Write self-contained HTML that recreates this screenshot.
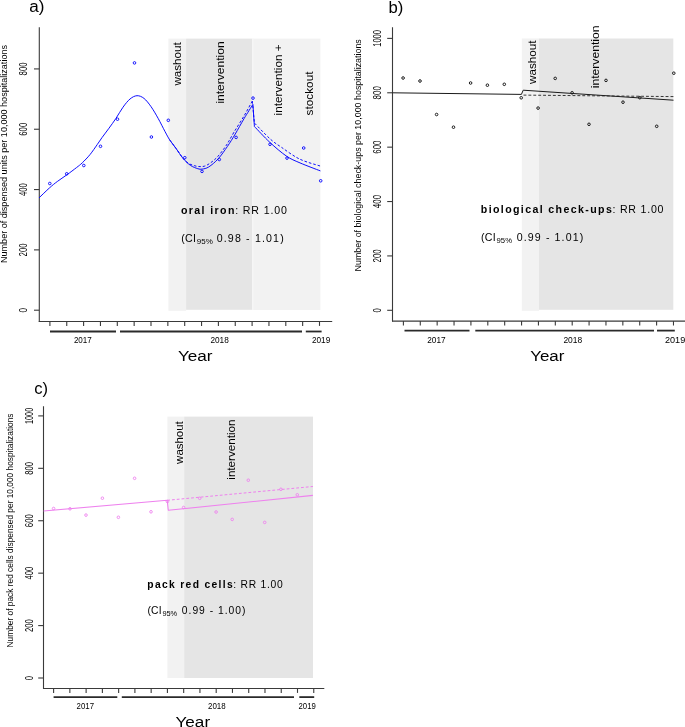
<!DOCTYPE html>
<html><head><meta charset="utf-8"><style>
html,body{margin:0;padding:0;background:#fff;width:685px;height:727px;overflow:hidden;position:relative;font-family:"Liberation Sans", sans-serif;}
</style></head><body>
<svg width="685" height="727" viewBox="0 0 685 727" style="position:absolute;left:0;top:0;will-change:transform">
<g font-family='"Liberation Sans", sans-serif'>
<rect x="168.4" y="38.6" width="17.7" height="272.2" fill="#f2f2f2"/>
<rect x="186.1" y="38.6" width="66.3" height="271.2" fill="#e5e5e5"/>
<rect x="252.4" y="38.6" width="68" height="271.4" fill="#f2f2f2"/>
<rect x="252.4" y="38.6" width="1" height="271.4" fill="#f8f8f8"/>
<line x1="39.3" y1="27.2" x2="39.3" y2="322" stroke="#3a3a3a" stroke-width="1.1" />
<line x1="38.8" y1="321.5" x2="332.2" y2="321.5" stroke="#3a3a3a" stroke-width="1.1" />
<line x1="34" y1="310.2" x2="39.3" y2="310.2" stroke="#3a3a3a" stroke-width="1.1" />
<text transform="translate(27.4,312.45) rotate(-90)" font-size="10.2" fill="#000" textLength="4.5" lengthAdjust="spacingAndGlyphs">0</text>
<line x1="34" y1="249.88" x2="39.3" y2="249.88" stroke="#3a3a3a" stroke-width="1.1" />
<text transform="translate(27.4,256.38) rotate(-90)" font-size="10.2" fill="#000" textLength="13" lengthAdjust="spacingAndGlyphs">200</text>
<line x1="34" y1="189.56" x2="39.3" y2="189.56" stroke="#3a3a3a" stroke-width="1.1" />
<text transform="translate(27.4,196.06) rotate(-90)" font-size="10.2" fill="#000" textLength="13" lengthAdjust="spacingAndGlyphs">400</text>
<line x1="34" y1="129.24" x2="39.3" y2="129.24" stroke="#3a3a3a" stroke-width="1.1" />
<text transform="translate(27.4,135.74) rotate(-90)" font-size="10.2" fill="#000" textLength="13" lengthAdjust="spacingAndGlyphs">600</text>
<line x1="34" y1="68.92" x2="39.3" y2="68.92" stroke="#3a3a3a" stroke-width="1.1" />
<text transform="translate(27.4,75.42) rotate(-90)" font-size="10.2" fill="#000" textLength="13" lengthAdjust="spacingAndGlyphs">800</text>
<line x1="49.9" y1="321.5" x2="49.9" y2="325.9" stroke="#3a3a3a" stroke-width="1.1" />
<line x1="66.75" y1="321.5" x2="66.75" y2="325.9" stroke="#3a3a3a" stroke-width="1.1" />
<line x1="83.6" y1="321.5" x2="83.6" y2="325.9" stroke="#3a3a3a" stroke-width="1.1" />
<line x1="100.45" y1="321.5" x2="100.45" y2="325.9" stroke="#3a3a3a" stroke-width="1.1" />
<line x1="117.3" y1="321.5" x2="117.3" y2="325.9" stroke="#3a3a3a" stroke-width="1.1" />
<line x1="134.15" y1="321.5" x2="134.15" y2="325.9" stroke="#3a3a3a" stroke-width="1.1" />
<line x1="151" y1="321.5" x2="151" y2="325.9" stroke="#3a3a3a" stroke-width="1.1" />
<line x1="167.85" y1="321.5" x2="167.85" y2="325.9" stroke="#3a3a3a" stroke-width="1.1" />
<line x1="184.7" y1="321.5" x2="184.7" y2="325.9" stroke="#3a3a3a" stroke-width="1.1" />
<line x1="201.55" y1="321.5" x2="201.55" y2="325.9" stroke="#3a3a3a" stroke-width="1.1" />
<line x1="218.4" y1="321.5" x2="218.4" y2="325.9" stroke="#3a3a3a" stroke-width="1.1" />
<line x1="235.25" y1="321.5" x2="235.25" y2="325.9" stroke="#3a3a3a" stroke-width="1.1" />
<line x1="252.1" y1="321.5" x2="252.1" y2="325.9" stroke="#3a3a3a" stroke-width="1.1" />
<line x1="268.95" y1="321.5" x2="268.95" y2="325.9" stroke="#3a3a3a" stroke-width="1.1" />
<line x1="285.8" y1="321.5" x2="285.8" y2="325.9" stroke="#3a3a3a" stroke-width="1.1" />
<line x1="302.65" y1="321.5" x2="302.65" y2="325.9" stroke="#3a3a3a" stroke-width="1.1" />
<line x1="319.5" y1="321.5" x2="319.5" y2="325.9" stroke="#3a3a3a" stroke-width="1.1" />
<line x1="50" y1="331.5" x2="116" y2="331.5" stroke="#2a2a2a" stroke-width="1.8" />
<line x1="120" y1="331.5" x2="302" y2="331.5" stroke="#2a2a2a" stroke-width="1.8" />
<line x1="305.8" y1="331.5" x2="321.6" y2="331.5" stroke="#2a2a2a" stroke-width="1.8" />
<text x="73.9" y="343.4" font-size="9" fill="#000" textLength="17.9" lengthAdjust="spacingAndGlyphs">2017</text>
<text x="210.4" y="343.4" font-size="9" fill="#000" textLength="18.4" lengthAdjust="spacingAndGlyphs">2018</text>
<text x="311.9" y="343.4" font-size="9" fill="#000" textLength="18.4" lengthAdjust="spacingAndGlyphs">2019</text>
<text transform="translate(7.4,263) rotate(-90)" font-size="9.0" fill="#000" textLength="218" lengthAdjust="spacingAndGlyphs">Number of dispensed units per 10,000 hospitalizations</text>
<text x="29.3" y="12" font-size="16" fill="#000" textLength="15.2" lengthAdjust="spacingAndGlyphs">a)</text>
<text x="177.9" y="361.3" font-size="15.2" fill="#000" textLength="34.6" lengthAdjust="spacingAndGlyphs">Year</text>
<text transform="translate(181.1,85.6) rotate(-90)" font-size="11.6" fill="#000" textLength="43.3" lengthAdjust="spacingAndGlyphs">washout</text>
<text transform="translate(223.8,103.6) rotate(-90)" font-size="11.6" fill="#000" textLength="62.2" lengthAdjust="spacingAndGlyphs">intervention</text>
<text transform="translate(281.9,115.4) rotate(-90)" font-size="11.6" fill="#000" textLength="71.1" lengthAdjust="spacingAndGlyphs">intervention +</text>
<text transform="translate(312.8,115.4) rotate(-90)" font-size="11.6" fill="#000" textLength="43.9" lengthAdjust="spacingAndGlyphs">stockout</text>
<text x="181" y="213.8" font-size="10.6" fill="#000" font-weight="bold" textLength="53.4" lengthAdjust="spacing">oral iron</text>
<text x="235.2" y="213.8" font-size="10.6" fill="#000" textLength="51.8" lengthAdjust="spacing">: RR 1.00</text>
<text x="181.2" y="241.6" font-size="10.6" fill="#000" textLength="14.8" lengthAdjust="spacing">(CI</text>
<text x="196.8" y="243.8" font-size="7.4" fill="#000" textLength="16" lengthAdjust="spacingAndGlyphs">95%</text>
<text x="216.7" y="241.6" font-size="10.6" fill="#000" textLength="67" lengthAdjust="spacing">0.98 - 1.01)</text>
<circle cx="49.8" cy="183.5" r="1.3" fill="none" stroke="#0000ff" stroke-width="0.9"/>
<circle cx="66.7" cy="173.8" r="1.3" fill="none" stroke="#0000ff" stroke-width="0.9"/>
<circle cx="83.8" cy="165.5" r="1.3" fill="none" stroke="#0000ff" stroke-width="0.9"/>
<circle cx="100.5" cy="146.3" r="1.3" fill="none" stroke="#0000ff" stroke-width="0.9"/>
<circle cx="117.5" cy="119.2" r="1.3" fill="none" stroke="#0000ff" stroke-width="0.9"/>
<circle cx="134.5" cy="62.9" r="1.3" fill="none" stroke="#0000ff" stroke-width="0.9"/>
<circle cx="151.4" cy="137" r="1.3" fill="none" stroke="#0000ff" stroke-width="0.9"/>
<circle cx="168.3" cy="120.3" r="1.3" fill="none" stroke="#0000ff" stroke-width="0.9"/>
<circle cx="184.8" cy="157.7" r="1.3" fill="none" stroke="#0000ff" stroke-width="0.9"/>
<circle cx="202" cy="171.4" r="1.3" fill="none" stroke="#0000ff" stroke-width="0.9"/>
<circle cx="219.3" cy="159.5" r="1.3" fill="none" stroke="#0000ff" stroke-width="0.9"/>
<circle cx="236.1" cy="137.4" r="1.3" fill="none" stroke="#0000ff" stroke-width="0.9"/>
<circle cx="253" cy="98.1" r="1.3" fill="none" stroke="#0000ff" stroke-width="0.9"/>
<circle cx="270" cy="144.3" r="1.3" fill="none" stroke="#0000ff" stroke-width="0.9"/>
<circle cx="287" cy="158.1" r="1.3" fill="none" stroke="#0000ff" stroke-width="0.9"/>
<circle cx="303.7" cy="148" r="1.3" fill="none" stroke="#0000ff" stroke-width="0.9"/>
<circle cx="320.7" cy="180.8" r="1.3" fill="none" stroke="#0000ff" stroke-width="0.9"/>
<path d="M39,197.9 C40.77,196.22 46.55,190.53 49.6,187.8 C52.65,185.07 54.42,183.67 57.3,181.5 C60.18,179.33 63.7,177.12 66.9,174.8 C70.1,172.48 73.93,169.6 76.5,167.6 C79.07,165.6 80.05,164.97 82.3,162.8 C84.55,160.63 87.52,157.63 90,154.6 C92.48,151.57 95.2,147.43 97.2,144.6 C99.2,141.77 100.03,140.33 102,137.6 C103.97,134.87 106.67,131.42 109,128.2 C111.33,124.98 113.67,121.8 116,118.3 C118.33,114.8 120.67,110.42 123,107.2 C125.33,103.98 127.67,100.92 130,99 C132.33,97.08 134.67,95.8 137,95.7 C139.33,95.6 141.67,96.58 144,98.4 C146.33,100.22 148.65,103.28 151,106.6 C153.35,109.92 155.75,114.12 158.1,118.3 C160.45,122.48 163.17,128.1 165.1,131.7 C167.03,135.3 167.88,137.12 169.7,139.9 C171.52,142.68 173.75,145.28 176,148.4 C178.25,151.52 180.78,155.77 183.2,158.6 C185.62,161.43 188.07,163.72 190.5,165.4 C192.93,167.08 195.85,168.08 197.8,168.7 C199.75,169.32 200.37,169.4 202.2,169.1 C204.03,168.8 206.13,168.62 208.8,166.9 C211.47,165.18 215.08,162.23 218.2,158.8 C221.32,155.37 224.67,150.42 227.5,146.3 C230.33,142.18 232.45,138.7 235.2,134.1 C237.95,129.5 241.05,123.65 244,118.7 C246.95,113.75 251.42,106.78 252.9,104.4" fill="none" stroke="#0000ff" stroke-width="0.95" stroke-linejoin="round"/>
<path d="M252.9,104.4 L254.4,126.5  C256.97,129.13 264.48,137.38 269.8,142.3 C275.12,147.22 281.27,152.57 286.3,156 C291.33,159.43 294.32,160.42 300,162.9 C305.68,165.38 317,169.57 320.4,170.9" fill="none" stroke="#0000ff" stroke-width="0.95" stroke-linejoin="round"/>
<path d="M169.7,139.9 C170.75,141.32 173.75,145.32 176,148.4 C178.25,151.48 181.13,155.92 183.2,158.4 C185.27,160.88 186.57,162.1 188.4,163.3 C190.23,164.5 192.5,165.07 194.2,165.6 C195.9,166.13 196.9,166.4 198.6,166.5 C200.3,166.6 202.45,166.78 204.4,166.2 C206.35,165.62 208.1,164.58 210.3,163 C212.5,161.42 214.92,159.67 217.6,156.7 C220.28,153.73 223.65,149.32 226.4,145.2 C229.15,141.08 231.17,136.87 234.1,132 C237.03,127.13 240.97,121.15 244,116 C247.03,110.85 250.92,103.58 252.3,101.1" fill="none" stroke="#0000ff" stroke-width="0.95" stroke-dasharray="2.6,1.9" stroke-linejoin="round"/>
<path d="M252.3,101.1 L254.4,123  C257,125.63 265.52,134.77 270,138.8 C274.48,142.83 276.35,143.82 281.3,147.2 C286.25,150.58 293.18,155.95 299.7,159.1 C306.22,162.25 316.95,164.93 320.4,166.1" fill="none" stroke="#0000ff" stroke-width="0.95" stroke-dasharray="2.6,1.9" stroke-linejoin="round"/>
<rect x="521.8" y="38.5" width="17.2" height="272.3" fill="#f2f2f2"/>
<rect x="539" y="38.5" width="134.3" height="271.3" fill="#e5e5e5"/>
<line x1="392.5" y1="27.2" x2="392.5" y2="321.6" stroke="#3a3a3a" stroke-width="1.1" />
<line x1="392" y1="321.1" x2="685.5" y2="321.1" stroke="#3a3a3a" stroke-width="1.1" />
<line x1="387.2" y1="310.3" x2="392.5" y2="310.3" stroke="#3a3a3a" stroke-width="1.1" />
<text transform="translate(380.8,312.45) rotate(-90)" font-size="10.8" fill="#000" textLength="4.3" lengthAdjust="spacingAndGlyphs">0</text>
<line x1="387.2" y1="255.92" x2="392.5" y2="255.92" stroke="#3a3a3a" stroke-width="1.1" />
<text transform="translate(380.8,262.52) rotate(-90)" font-size="10.8" fill="#000" textLength="13.2" lengthAdjust="spacingAndGlyphs">200</text>
<line x1="387.2" y1="201.54" x2="392.5" y2="201.54" stroke="#3a3a3a" stroke-width="1.1" />
<text transform="translate(380.8,208.14) rotate(-90)" font-size="10.8" fill="#000" textLength="13.2" lengthAdjust="spacingAndGlyphs">400</text>
<line x1="387.2" y1="147.16" x2="392.5" y2="147.16" stroke="#3a3a3a" stroke-width="1.1" />
<text transform="translate(380.8,153.76) rotate(-90)" font-size="10.8" fill="#000" textLength="13.2" lengthAdjust="spacingAndGlyphs">600</text>
<line x1="387.2" y1="92.78" x2="392.5" y2="92.78" stroke="#3a3a3a" stroke-width="1.1" />
<text transform="translate(380.8,99.38) rotate(-90)" font-size="10.8" fill="#000" textLength="13.2" lengthAdjust="spacingAndGlyphs">800</text>
<line x1="387.2" y1="38.4" x2="392.5" y2="38.4" stroke="#3a3a3a" stroke-width="1.1" />
<text transform="translate(380.8,46.75) rotate(-90)" font-size="10.8" fill="#000" textLength="16.7" lengthAdjust="spacingAndGlyphs">1000</text>
<line x1="403.4" y1="321.1" x2="403.4" y2="325.5" stroke="#3a3a3a" stroke-width="1.1" />
<line x1="420.28" y1="321.1" x2="420.28" y2="325.5" stroke="#3a3a3a" stroke-width="1.1" />
<line x1="437.16" y1="321.1" x2="437.16" y2="325.5" stroke="#3a3a3a" stroke-width="1.1" />
<line x1="454.04" y1="321.1" x2="454.04" y2="325.5" stroke="#3a3a3a" stroke-width="1.1" />
<line x1="470.92" y1="321.1" x2="470.92" y2="325.5" stroke="#3a3a3a" stroke-width="1.1" />
<line x1="487.8" y1="321.1" x2="487.8" y2="325.5" stroke="#3a3a3a" stroke-width="1.1" />
<line x1="504.68" y1="321.1" x2="504.68" y2="325.5" stroke="#3a3a3a" stroke-width="1.1" />
<line x1="521.56" y1="321.1" x2="521.56" y2="325.5" stroke="#3a3a3a" stroke-width="1.1" />
<line x1="538.44" y1="321.1" x2="538.44" y2="325.5" stroke="#3a3a3a" stroke-width="1.1" />
<line x1="555.32" y1="321.1" x2="555.32" y2="325.5" stroke="#3a3a3a" stroke-width="1.1" />
<line x1="572.2" y1="321.1" x2="572.2" y2="325.5" stroke="#3a3a3a" stroke-width="1.1" />
<line x1="589.08" y1="321.1" x2="589.08" y2="325.5" stroke="#3a3a3a" stroke-width="1.1" />
<line x1="605.96" y1="321.1" x2="605.96" y2="325.5" stroke="#3a3a3a" stroke-width="1.1" />
<line x1="622.84" y1="321.1" x2="622.84" y2="325.5" stroke="#3a3a3a" stroke-width="1.1" />
<line x1="639.72" y1="321.1" x2="639.72" y2="325.5" stroke="#3a3a3a" stroke-width="1.1" />
<line x1="656.6" y1="321.1" x2="656.6" y2="325.5" stroke="#3a3a3a" stroke-width="1.1" />
<line x1="673.48" y1="321.1" x2="673.48" y2="325.5" stroke="#3a3a3a" stroke-width="1.1" />
<line x1="404.5" y1="330.6" x2="469.5" y2="330.6" stroke="#2a2a2a" stroke-width="1.8" />
<line x1="475.3" y1="330.6" x2="654" y2="330.6" stroke="#2a2a2a" stroke-width="1.8" />
<line x1="657" y1="330.6" x2="674.8" y2="330.6" stroke="#2a2a2a" stroke-width="1.8" />
<text x="427.3" y="343.3" font-size="9.9" fill="#000" textLength="18.3" lengthAdjust="spacingAndGlyphs">2017</text>
<text x="563.4" y="343.3" font-size="9.9" fill="#000" textLength="18.8" lengthAdjust="spacingAndGlyphs">2018</text>
<text x="665" y="343.3" font-size="9.9" fill="#000" textLength="20.2" lengthAdjust="spacingAndGlyphs">2019</text>
<text transform="translate(360.6,271.4) rotate(-90)" font-size="8.9" fill="#000" textLength="232.2" lengthAdjust="spacingAndGlyphs">Number of biological check-ups per 10,000 hospitalizations</text>
<text x="388.4" y="13" font-size="16" fill="#000" textLength="14.8" lengthAdjust="spacingAndGlyphs">b)</text>
<text x="530.2" y="361" font-size="15.2" fill="#000" textLength="34.2" lengthAdjust="spacingAndGlyphs">Year</text>
<text transform="translate(535.7,83.9) rotate(-90)" font-size="11.6" fill="#000" textLength="43.3" lengthAdjust="spacingAndGlyphs">washout</text>
<text transform="translate(598.9,88.3) rotate(-90)" font-size="11.6" fill="#000" textLength="62.8" lengthAdjust="spacingAndGlyphs">intervention</text>
<text x="480.8" y="212.6" font-size="10.6" fill="#000" font-weight="bold" textLength="131" lengthAdjust="spacing">biological check-ups</text>
<text x="612.5" y="212.6" font-size="10.6" fill="#000" textLength="51" lengthAdjust="spacing">: RR 1.00</text>
<text x="480.9" y="240.5" font-size="10.6" fill="#000" textLength="14.8" lengthAdjust="spacing">(CI</text>
<text x="496.6" y="242.7" font-size="7.4" fill="#000" textLength="15.4" lengthAdjust="spacingAndGlyphs">95%</text>
<text x="516.8" y="240.5" font-size="10.6" fill="#000" textLength="66.4" lengthAdjust="spacing">0.99 - 1.01)</text>
<circle cx="403.1" cy="78" r="1.3" fill="none" stroke="#1a1a1a" stroke-width="1.0"/>
<circle cx="420" cy="81" r="1.3" fill="none" stroke="#1a1a1a" stroke-width="1.0"/>
<circle cx="436.6" cy="114.5" r="1.3" fill="none" stroke="#1a1a1a" stroke-width="1.0"/>
<circle cx="453.5" cy="127.2" r="1.3" fill="none" stroke="#1a1a1a" stroke-width="1.0"/>
<circle cx="470.6" cy="83" r="1.3" fill="none" stroke="#1a1a1a" stroke-width="1.0"/>
<circle cx="487.4" cy="85.2" r="1.3" fill="none" stroke="#1a1a1a" stroke-width="1.0"/>
<circle cx="504.3" cy="84.3" r="1.3" fill="none" stroke="#1a1a1a" stroke-width="1.0"/>
<circle cx="521.2" cy="97.8" r="1.3" fill="none" stroke="#1a1a1a" stroke-width="1.0"/>
<circle cx="538.1" cy="108.1" r="1.3" fill="none" stroke="#1a1a1a" stroke-width="1.0"/>
<circle cx="555.2" cy="78.4" r="1.3" fill="none" stroke="#1a1a1a" stroke-width="1.0"/>
<circle cx="572.1" cy="92.8" r="1.3" fill="none" stroke="#1a1a1a" stroke-width="1.0"/>
<circle cx="589" cy="124.3" r="1.3" fill="none" stroke="#1a1a1a" stroke-width="1.0"/>
<circle cx="606" cy="80.4" r="1.3" fill="none" stroke="#1a1a1a" stroke-width="1.0"/>
<circle cx="623" cy="102.2" r="1.3" fill="none" stroke="#1a1a1a" stroke-width="1.0"/>
<circle cx="639.8" cy="97.7" r="1.3" fill="none" stroke="#1a1a1a" stroke-width="1.0"/>
<circle cx="656.7" cy="126.3" r="1.3" fill="none" stroke="#1a1a1a" stroke-width="1.0"/>
<circle cx="673.8" cy="73.2" r="1.3" fill="none" stroke="#1a1a1a" stroke-width="1.0"/>
<path d="M392.5,92.8 L521.4,94.4 L523.2,90.2 L673.5,100.2" fill="none" stroke="#1a1a1a" stroke-width="1.0" stroke-linejoin="round"/>
<path d="M523.5,95.1 L673.5,96.6" fill="none" stroke="#222" stroke-width="0.9" stroke-dasharray="2.9,2.0" stroke-linejoin="round"/>
<rect x="167.4" y="416.6" width="16.8" height="261.4" fill="#f2f2f2"/>
<rect x="184.2" y="416.6" width="128.8" height="261.4" fill="#e5e5e5"/>
<line x1="43.5" y1="406.2" x2="43.5" y2="689" stroke="#3a3a3a" stroke-width="1.1" />
<line x1="43" y1="688.5" x2="324.3" y2="688.5" stroke="#3a3a3a" stroke-width="1.1" />
<line x1="38.2" y1="678" x2="43.5" y2="678" stroke="#3a3a3a" stroke-width="1.1" />
<text transform="translate(32.5,680.15) rotate(-90)" font-size="10.0" fill="#000" textLength="4.3" lengthAdjust="spacingAndGlyphs">0</text>
<line x1="38.2" y1="625.58" x2="43.5" y2="625.58" stroke="#3a3a3a" stroke-width="1.1" />
<text transform="translate(32.5,631.98) rotate(-90)" font-size="10.0" fill="#000" textLength="12.8" lengthAdjust="spacingAndGlyphs">200</text>
<line x1="38.2" y1="573.16" x2="43.5" y2="573.16" stroke="#3a3a3a" stroke-width="1.1" />
<text transform="translate(32.5,579.56) rotate(-90)" font-size="10.0" fill="#000" textLength="12.8" lengthAdjust="spacingAndGlyphs">400</text>
<line x1="38.2" y1="520.74" x2="43.5" y2="520.74" stroke="#3a3a3a" stroke-width="1.1" />
<text transform="translate(32.5,527.14) rotate(-90)" font-size="10.0" fill="#000" textLength="12.8" lengthAdjust="spacingAndGlyphs">600</text>
<line x1="38.2" y1="468.32" x2="43.5" y2="468.32" stroke="#3a3a3a" stroke-width="1.1" />
<text transform="translate(32.5,474.72) rotate(-90)" font-size="10.0" fill="#000" textLength="12.8" lengthAdjust="spacingAndGlyphs">800</text>
<line x1="38.2" y1="415.9" x2="43.5" y2="415.9" stroke="#3a3a3a" stroke-width="1.1" />
<text transform="translate(32.5,424) rotate(-90)" font-size="10.0" fill="#000" textLength="16.2" lengthAdjust="spacingAndGlyphs">1000</text>
<line x1="53.6" y1="688.5" x2="53.6" y2="692.9" stroke="#3a3a3a" stroke-width="1.1" />
<line x1="69.86" y1="688.5" x2="69.86" y2="692.9" stroke="#3a3a3a" stroke-width="1.1" />
<line x1="86.12" y1="688.5" x2="86.12" y2="692.9" stroke="#3a3a3a" stroke-width="1.1" />
<line x1="102.38" y1="688.5" x2="102.38" y2="692.9" stroke="#3a3a3a" stroke-width="1.1" />
<line x1="118.64" y1="688.5" x2="118.64" y2="692.9" stroke="#3a3a3a" stroke-width="1.1" />
<line x1="134.9" y1="688.5" x2="134.9" y2="692.9" stroke="#3a3a3a" stroke-width="1.1" />
<line x1="151.16" y1="688.5" x2="151.16" y2="692.9" stroke="#3a3a3a" stroke-width="1.1" />
<line x1="167.42" y1="688.5" x2="167.42" y2="692.9" stroke="#3a3a3a" stroke-width="1.1" />
<line x1="183.68" y1="688.5" x2="183.68" y2="692.9" stroke="#3a3a3a" stroke-width="1.1" />
<line x1="199.94" y1="688.5" x2="199.94" y2="692.9" stroke="#3a3a3a" stroke-width="1.1" />
<line x1="216.2" y1="688.5" x2="216.2" y2="692.9" stroke="#3a3a3a" stroke-width="1.1" />
<line x1="232.46" y1="688.5" x2="232.46" y2="692.9" stroke="#3a3a3a" stroke-width="1.1" />
<line x1="248.72" y1="688.5" x2="248.72" y2="692.9" stroke="#3a3a3a" stroke-width="1.1" />
<line x1="264.98" y1="688.5" x2="264.98" y2="692.9" stroke="#3a3a3a" stroke-width="1.1" />
<line x1="281.24" y1="688.5" x2="281.24" y2="692.9" stroke="#3a3a3a" stroke-width="1.1" />
<line x1="297.5" y1="688.5" x2="297.5" y2="692.9" stroke="#3a3a3a" stroke-width="1.1" />
<line x1="313.76" y1="688.5" x2="313.76" y2="692.9" stroke="#3a3a3a" stroke-width="1.1" />
<line x1="53.6" y1="697.1" x2="117.3" y2="697.1" stroke="#2a2a2a" stroke-width="1.8" />
<line x1="121.8" y1="697.1" x2="294" y2="697.1" stroke="#2a2a2a" stroke-width="1.8" />
<line x1="299.3" y1="697.1" x2="314.2" y2="697.1" stroke="#2a2a2a" stroke-width="1.8" />
<text x="76.6" y="709.2" font-size="9" fill="#000" textLength="17.4" lengthAdjust="spacingAndGlyphs">2017</text>
<text x="208" y="709.2" font-size="9" fill="#000" textLength="17.7" lengthAdjust="spacingAndGlyphs">2018</text>
<text x="298.5" y="709.2" font-size="9" fill="#000" textLength="17.3" lengthAdjust="spacingAndGlyphs">2019</text>
<text transform="translate(12.8,647.4) rotate(-90)" font-size="8.35" fill="#000" textLength="233.9" lengthAdjust="spacingAndGlyphs">Number of pack red cells dispensed per 10,000 hospitalizations</text>
<text x="34.3" y="393.6" font-size="16.5" fill="#000" textLength="13.8" lengthAdjust="spacingAndGlyphs">c)</text>
<text x="175.5" y="727" font-size="15.2" fill="#000" textLength="34.6" lengthAdjust="spacingAndGlyphs">Year</text>
<text transform="translate(182.6,463.9) rotate(-90)" font-size="11.0" fill="#000" textLength="42.7" lengthAdjust="spacingAndGlyphs">washout</text>
<text transform="translate(235,479.7) rotate(-90)" font-size="11.0" fill="#000" textLength="60.2" lengthAdjust="spacingAndGlyphs">intervention</text>
<text x="147.3" y="587.5" font-size="10.3" fill="#000" font-weight="bold" textLength="85.4" lengthAdjust="spacing">pack red cells</text>
<text x="233.3" y="587.5" font-size="10.3" fill="#000" textLength="49.4" lengthAdjust="spacing">: RR 1.00</text>
<text x="147.4" y="613.6" font-size="10.3" fill="#000" textLength="14.2" lengthAdjust="spacing">(CI</text>
<text x="162.4" y="615.7" font-size="7.2" fill="#000" textLength="14.8" lengthAdjust="spacingAndGlyphs">95%</text>
<text x="181.8" y="613.6" font-size="10.3" fill="#000" textLength="63.6" lengthAdjust="spacing">0.99 - 1.00)</text>
<circle cx="53.6" cy="508.5" r="1.3" fill="none" stroke="#ee82ee" stroke-width="0.9"/>
<circle cx="70" cy="508.8" r="1.3" fill="none" stroke="#ee82ee" stroke-width="0.9"/>
<circle cx="86" cy="515.1" r="1.3" fill="none" stroke="#ee82ee" stroke-width="0.9"/>
<circle cx="102.4" cy="498.2" r="1.3" fill="none" stroke="#ee82ee" stroke-width="0.9"/>
<circle cx="118.4" cy="517.3" r="1.3" fill="none" stroke="#ee82ee" stroke-width="0.9"/>
<circle cx="134.6" cy="478.3" r="1.3" fill="none" stroke="#ee82ee" stroke-width="0.9"/>
<circle cx="151" cy="511.8" r="1.3" fill="none" stroke="#ee82ee" stroke-width="0.9"/>
<circle cx="167.4" cy="501.5" r="1.3" fill="none" stroke="#ee82ee" stroke-width="0.9"/>
<circle cx="183.6" cy="507.5" r="1.3" fill="none" stroke="#ee82ee" stroke-width="0.9"/>
<circle cx="199.7" cy="498.3" r="1.3" fill="none" stroke="#ee82ee" stroke-width="0.9"/>
<circle cx="216.1" cy="512" r="1.3" fill="none" stroke="#ee82ee" stroke-width="0.9"/>
<circle cx="232.2" cy="519.4" r="1.3" fill="none" stroke="#ee82ee" stroke-width="0.9"/>
<circle cx="248.3" cy="480.2" r="1.3" fill="none" stroke="#ee82ee" stroke-width="0.9"/>
<circle cx="264.7" cy="522.4" r="1.3" fill="none" stroke="#ee82ee" stroke-width="0.9"/>
<circle cx="280.9" cy="489.3" r="1.3" fill="none" stroke="#ee82ee" stroke-width="0.9"/>
<circle cx="297.3" cy="494.8" r="1.3" fill="none" stroke="#ee82ee" stroke-width="0.9"/>
<path d="M43.6,511 L167.2,500.2 L168.3,510.3 L312.9,495.4" fill="none" stroke="#ee82ee" stroke-width="1.1" stroke-linejoin="round"/>
<path d="M167.2,500.3 L312.9,486.5" fill="none" stroke="#ee82ee" stroke-width="1.0" stroke-dasharray="2.8,2.0" stroke-linejoin="round"/>
</g></svg>
</body></html>
